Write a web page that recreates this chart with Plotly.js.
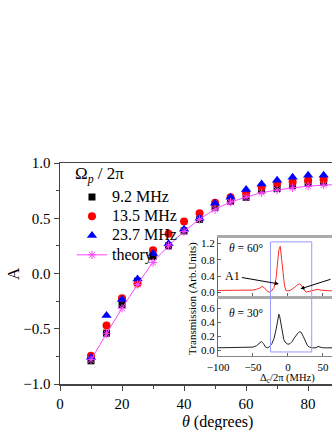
<!DOCTYPE html>
<html>
<head>
<meta charset="utf-8">
<script src="https://cdn.plot.ly/plotly-3.0.1.min.js"></script>
<style>
  body { margin: 0; background: #fff; }
  #tester { width: 332px; height: 430px; }
</style>
</head>
<body>
<div id="tester"></div>
<script>
// main panel: asymmetry A against theta
var theta = [10, 15, 20, 25, 30, 35, 40, 45, 50, 55, 60, 65, 70, 75, 80, 85];
var a92  = [-0.79, -0.54, -0.28, -0.07, 0.155, 0.25, 0.385, 0.49, 0.60, 0.655, 0.69, 0.755, 0.77, 0.795, 0.815, 0.825];
var a135 = [-0.745, -0.47, -0.225, -0.09, 0.21, 0.36, 0.47, 0.545, 0.64, 0.69, 0.73, 0.785, 0.82, 0.83, 0.845, 0.85];
var a237 = [-0.76, -0.38, -0.235, -0.05, 0.18, 0.27, 0.40, 0.50, 0.635, 0.69, 0.76, 0.81, 0.845, 0.87, 0.89, 0.89];

var thetaTh = [10, 15, 20, 25, 30, 35, 40, 45, 50, 55, 60, 65, 70, 75, 80, 85, 90];
var aTh = [-0.78, -0.545, -0.315, -0.10, 0.10, 0.25, 0.38, 0.49, 0.58, 0.645, 0.69, 0.73, 0.755, 0.775, 0.79, 0.80, 0.805];

// inset: transmission spectra
var det60 = [-100, -90, -80, -70, -60, -50, -45, -40, -37, -34, -30, -27, -24, -20, -17, -15, -13, -11, -9, -7, -5, -3, 0, 3, 6, 10, 14, 17, 20, 23, 26, 30, 35, 40, 43, 46, 50, 55, 60, 63];
var tr60 = [0.05, 0.05, 0.05, 0.05, 0.06, 0.06, 0.08, 0.11, 0.15, 0.12, 0.04, 0.01, 0.03, 0.12, 0.35, 0.7, 1.05, 1.13, 0.85, 0.45, 0.18, 0.05, 0.04, 0.05, 0.08, 0.13, 0.2, 0.21, 0.16, 0.06, 0.01, 0.03, 0.05, 0.07, 0.08, 0.06, 0.05, 0.05, 0.04, 0.05];

var det30 = [-100, -90, -80, -70, -60, -50, -45, -40, -38, -35, -32, -29, -26, -23, -20, -17, -15, -13, -12, -10, -8, -6, -4, -2, 0, 3, 6, 9, 12, 15, 17, 19, 22, 25, 28, 31, 35, 40, 43, 46, 50, 55, 60, 63];
var tr30 = [0.04, 0.04, 0.04, 0.04, 0.045, 0.05, 0.07, 0.11, 0.13, 0.1, 0.05, 0.04, 0.06, 0.1, 0.17, 0.3, 0.45, 0.52, 0.5, 0.38, 0.24, 0.16, 0.12, 0.1, 0.09, 0.1, 0.13, 0.18, 0.23, 0.26, 0.27, 0.26, 0.2, 0.12, 0.07, 0.05, 0.04, 0.04, 0.06, 0.05, 0.04, 0.04, 0.04, 0.04];

var serif = '"Liberation Serif", serif';

// legend rows are packed by legend.font.size, the text itself drawn a bit larger
function big(s) {
  return '<span style="font-size:16px;font-family:Liberation Serif,serif">' + s + '</span>';
}

var trace1 = {
  x: theta, y: a92, mode: 'markers', type: 'scatter', name: big('9.2 MHz'),
  marker: { symbol: 'square', size: 7, color: '#000000' }
};
var trace2 = {
  x: theta, y: a135, mode: 'markers', type: 'scatter', name: big('13.5 MHz'),
  marker: { symbol: 'circle', size: 8, color: '#ff0000' }
};
var trace3 = {
  x: theta, y: a237, mode: 'markers', type: 'scatter', name: big('23.7 MHz'),
  marker: { symbol: 'triangle-up', size: 9, color: '#0000ff' }
};
var trace4 = {
  x: thetaTh, y: aTh, mode: 'lines+markers', type: 'scatter', name: big('theory'),
  line: { color: '#ff44ff', width: 1, shape: 'spline' },
  marker: { symbol: 'asterisk-open', size: 7, line: { color: '#ff44ff', width: 1 } }
};

var spec60 = {
  x: det60, y: tr60, mode: 'lines', type: 'scatter', xaxis: 'x3', yaxis: 'y3',
  line: { color: '#ff2a2a', width: 1 }, showlegend: false, hoverinfo: 'skip'
};
var spec30 = {
  x: det30, y: tr30, mode: 'lines', type: 'scatter', xaxis: 'x2', yaxis: 'y2',
  line: { color: '#222222', width: 1 }, showlegend: false, hoverinfo: 'skip'
};

var data = [trace1, trace2, trace3, trace4, spec60, spec30];

var layout = {
  width: 332,
  height: 430,
  margin: { l: 60, r: 0, t: 163, b: 46 },
  paper_bgcolor: '#ffffff',
  plot_bgcolor: '#ffffff',
  font: { family: serif, size: 15, color: '#000000' },
  showlegend: true,

  xaxis: {
    range: [0, 87.7],
    showgrid: false, zeroline: false,
    showline: true, linecolor: '#444444', linewidth: 1.5, mirror: true,
    ticks: 'outside', ticklen: 5, tickcolor: '#444444',
    tickvals: [0, 20, 40, 60, 80],
    minor: { dtick: 10, ticks: 'outside', ticklen: 3, tickcolor: '#444444' },
    tickfont: { family: serif, size: 15 }
  },
  yaxis: {
    range: [-1, 1],
    showgrid: false, zeroline: false,
    showline: true, linecolor: '#444444', linewidth: 1.5,
    ticks: 'outside', ticklen: 5, tickcolor: '#444444',
    tickvals: [-1, -0.5, 0, 0.5, 1], tickformat: '.1f',
    minor: { dtick: 0.25, ticks: 'outside', ticklen: 3, tickcolor: '#444444' },
    tickfont: { family: serif, size: 15 }
  },

  // inset, lower panel (theta = 30)
  xaxis2: {
    domain: [0.581, 1], anchor: 'y2', range: [-100, 63],
    showgrid: false, zeroline: false,
    showline: true, linecolor: '#888888', linewidth: 1.5,
    ticks: 'inside', ticklen: 3, tickcolor: '#666666',
    tickvals: [-100, -50, 0, 50],
    tickfont: { family: serif, size: 11 }
  },
  yaxis2: {
    domain: [0.127, 0.398], anchor: 'x2', range: [-0.076, 0.78],
    showgrid: false, zeroline: false,
    showline: true, linecolor: '#666666', linewidth: 1,
    ticks: 'inside', ticklen: 3, tickcolor: '#666666',
    tickvals: [0, 0.2, 0.4, 0.6], tickformat: '.1f',
    tickfont: { family: serif, size: 11 }
  },
  // inset, upper panel (theta = 60)
  xaxis3: {
    domain: [0.581, 1], anchor: 'y3', range: [-100, 63],
    showgrid: false, zeroline: false,
    showline: true, linecolor: '#aaaaaa', linewidth: 3, mirror: true,
    ticks: 'inside', ticklen: 3, tickcolor: '#666666',
    tickvals: [-100, -50, 0, 50], showticklabels: false
  },
  yaxis3: {
    domain: [0.398, 0.661], anchor: 'x3', range: [-0.086, 1.336],
    showgrid: false, zeroline: false,
    showline: true, linecolor: '#666666', linewidth: 1,
    ticks: 'inside', ticklen: 3, tickcolor: '#666666',
    tickvals: [0, 0.4, 0.8, 1.2], tickformat: '.1f',
    tickfont: { family: serif, size: 11 }
  },

  legend: {
    x: 0.044, y: 0.912, xanchor: 'left', yanchor: 'top',
    bgcolor: 'rgba(0,0,0,0)',
    font: { family: serif, size: 12.5 }
  },

  shapes: [
    {
      type: 'rect', xref: 'x2', yref: 'paper',
      x0: -25, x1: 34, y0: 0.145, y1: 0.643,
      line: { color: '#9999ff', width: 1 }
    }
  ],

  annotations: [
    { text: 'Ω<sub><i>p</i></sub> / 2π', xref: 'paper', yref: 'paper', x: 0.048, y: 0.945,
      xanchor: 'left', yanchor: 'middle', showarrow: false, font: { family: serif, size: 17 } },
    { text: 'A', xref: 'paper', yref: 'paper', x: -0.173, y: 0.502, textangle: -90,
      xanchor: 'center', yanchor: 'middle', showarrow: false, font: { family: serif, size: 17 } },
    { text: '<i>θ</i> (degrees)', xref: 'paper', yref: 'paper', x: 0.579, y: -0.172,
      xanchor: 'center', yanchor: 'middle', showarrow: false, font: { family: serif, size: 16 } },
    { text: 'Transmission (Arb.Units)', xref: 'paper', yref: 'paper', x: 0.489, y: 0.385,
      xanchor: 'center', yanchor: 'middle', textangle: -90, showarrow: false,
      font: { family: serif, size: 11 } },
    { text: 'Δ<sub>c</sub>/2π (MHz)', xref: 'x2', yref: 'paper', x: 0, y: 0.024,
      xanchor: 'center', yanchor: 'middle', showarrow: false, font: { family: serif, size: 10.5 } },
    { text: '<i>θ</i> = 60°', xref: 'x3', yref: 'y3', x: -60, y: 1.09,
      xanchor: 'center', yanchor: 'middle', showarrow: false, font: { family: serif, size: 11.5 } },
    { text: '<i>θ</i> = 30°', xref: 'x2', yref: 'y2', x: -60, y: 0.54,
      xanchor: 'center', yanchor: 'middle', showarrow: false, font: { family: serif, size: 11.5 } },
    { text: 'A1', xref: 'x3', yref: 'y3', x: -13, y: 0.21,
      ax: -46, ay: -8, showarrow: true, arrowhead: 2, arrowsize: 0.8, arrowwidth: 1,
      arrowcolor: '#000000', font: { family: serif, size: 12 } },
    { text: '', xref: 'x3', yref: 'y3', x: 18, y: 0.09,
      ax: 34, ay: -10, showarrow: true, arrowhead: 2, arrowsize: 0.8, arrowwidth: 1,
      arrowcolor: '#000000' }
  ]
};

TESTER = document.getElementById('tester');

Plotly.newPlot(TESTER, data, layout, { displayModeBar: false, staticPlot: true });
</script>
</body>
</html>
